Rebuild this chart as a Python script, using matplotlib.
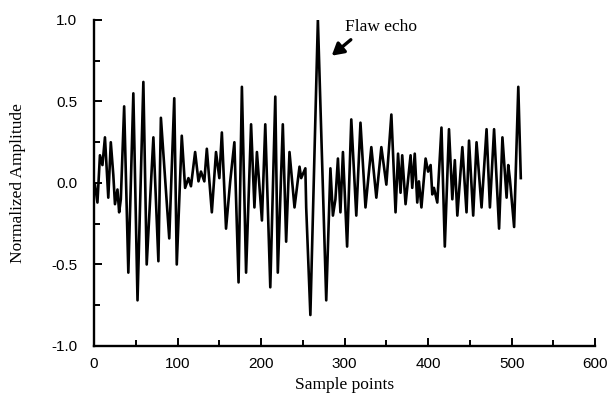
import matplotlib
matplotlib.use('Agg')
import matplotlib.pyplot as plt
from matplotlib.ticker import MultipleLocator

# Peaks and troughs (sample index, amplitude)
samples = [1, 4, 7, 10, 13, 17, 20, 23, 25, 28, 30, 32, 36, 41, 47, 52, 59, 63,
           71, 77, 80, 90, 96, 99, 105, 109, 113, 116, 121, 125, 128, 132, 135,
           141, 146, 150, 153, 158, 163, 168, 173, 177, 182, 188, 192, 195, 201,
           205, 211, 217, 220, 226, 230, 234, 240, 246, 248, 253, 254, 259, 268,
           278, 283, 286, 289, 292, 295, 298, 303, 308, 314, 319, 325, 332, 338,
           344, 350, 356, 361, 364, 367, 369, 373, 379, 381, 384, 387, 389, 392,
           397, 400, 403, 405, 407, 411, 416, 420, 425, 429, 432, 435, 441, 446,
           449, 454, 458, 464, 470, 474, 479, 485, 489, 494, 496, 498, 503, 508,
           511]
amplitude = [-0.01, -0.12, 0.17, 0.11, 0.28, -0.09, 0.25, 0.05, -0.13, -0.04,
             -0.18, -0.10, 0.47, -0.55, 0.55, -0.72, 0.62, -0.50, 0.28, -0.48,
             0.40, -0.34, 0.52, -0.50, 0.29, -0.03, 0.03, -0.02, 0.19, 0.01,
             0.07, 0.01, 0.21, -0.18, 0.19, 0.03, 0.31, -0.28, 0.01, 0.25,
             -0.61, 0.59, -0.55, 0.36, -0.15, 0.19, -0.23, 0.36, -0.64, 0.53,
             -0.55, 0.36, -0.36, 0.19, -0.15, 0.10, 0.03, 0.09, -0.15, -0.81,
             1.00, -0.72, 0.09, -0.20, -0.10, 0.15, -0.18, 0.19, -0.39, 0.39,
             -0.20, 0.37, -0.15, 0.22, -0.09, 0.22, -0.01, 0.42, -0.18, 0.18,
             -0.06, 0.17, -0.13, 0.17, -0.03, 0.18, -0.12, 0.01, -0.15, 0.15,
             0.07, 0.11, -0.07, -0.03, -0.12, 0.34, -0.39, 0.33, -0.10, 0.14,
             -0.20, 0.22, -0.18, 0.26, -0.20, 0.25, -0.15, 0.33, -0.15, 0.33,
             -0.28, 0.28, -0.09, 0.11, 0.02, -0.27, 0.59, 0.03]

x_ticks = [0, 100, 200, 300, 400, 500, 600]
y_ticks = [-1.0, -0.5, 0.0, 0.5, 1.0]
y_tick_labels = ['-1.0', '-0.5', '0.0', '0.5', '1.0']

fig = plt.figure(figsize=(6.11, 4.08), dpi=100)
ax = fig.add_axes([0.154, 0.152, 0.820, 0.799])

ax.plot(samples, amplitude, color='black', linewidth=1.9)

ax.set_xlim(0, 600)
ax.set_ylim(-1.0, 1.0)
ax.set_xticks(x_ticks)
ax.set_yticks(y_ticks)
ax.set_yticklabels(y_tick_labels)
ax.xaxis.set_minor_locator(MultipleLocator(50))
ax.yaxis.set_minor_locator(MultipleLocator(0.25))
ax.tick_params(which='both', direction='in', width=1.4)
ax.tick_params(which='major', length=6, labelsize=11)
ax.tick_params(which='minor', length=4)
ax.tick_params(axis='x', which='major', pad=8)
ax.tick_params(axis='y', which='major', pad=12)
for lbl in ax.get_xticklabels() + ax.get_yticklabels():
    lbl.set_family('Liberation Sans')

ax.spines['top'].set_visible(False)
ax.spines['right'].set_visible(False)
ax.spines['left'].set_linewidth(1.7)
ax.spines['bottom'].set_linewidth(1.7)

ax.set_xlabel('Sample points', family='Liberation Serif', fontsize=12.5,
              labelpad=4)
ax.set_ylabel('Normalized Amplitude', family='Liberation Serif',
              fontsize=12.5, labelpad=18)

# Arrow pointing to the flaw echo
ax.annotate('', xy=(282, 0.77), xytext=(310, 0.89),
            arrowprops=dict(arrowstyle='-|>,head_width=0.4,head_length=0.7',
                            color='black', linewidth=2.4))
ax.text(301, 0.96, 'Flaw echo', family='Liberation Serif', fontsize=12.5,
        va='center', ha='left')

fig.savefig('out.png', dpi=100)
